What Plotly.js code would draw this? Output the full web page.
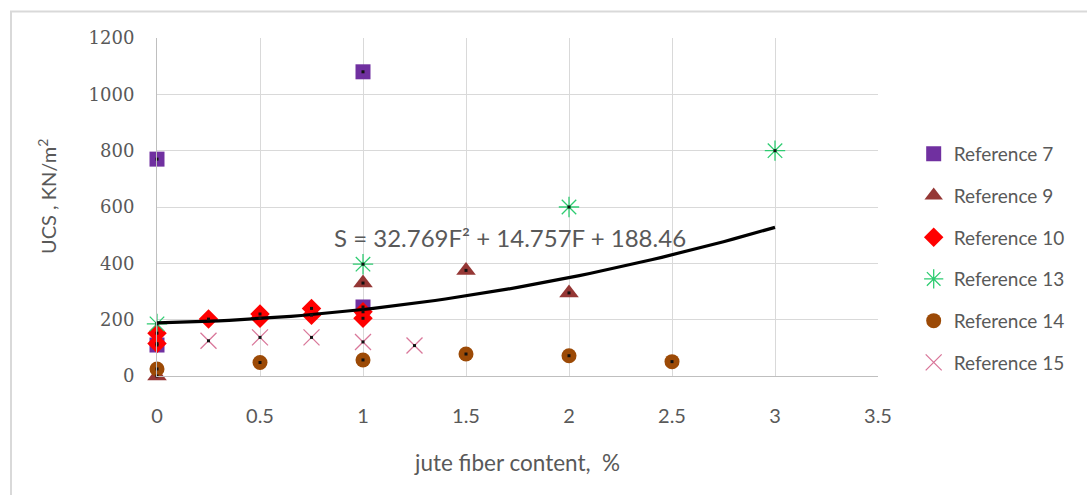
<!DOCTYPE html>
<html>
<head>
<meta charset="utf-8">
<script src="https://cdn.plot.ly/plotly-3.0.1.min.js"></script>
<style>html,body{margin:0;padding:0;background:#fff;}#chart{width:1087px;height:495px;}</style>
</head>
<body>
<div id="chart"></div>
<script>
// Data
const ref7_x = [0, 0, 1, 1];
const ref7_y = [770, 110, 1080, 245];
const ref9_x = [0, 1, 1.5, 2];
const ref9_y = [0, 330, 375, 295];
const ref10_x = [0, 0, 0.25, 0.5, 0.5, 0.75, 0.75, 1, 1];
const ref10_y = [152, 115, 202, 220, 205, 240, 216, 228, 205];
const ref13_x = [0, 1, 2, 3];
const ref13_y = [185, 397, 600, 800];
const ref14_x = [0, 0.5, 1, 1.5, 2, 2.5];
const ref14_y = [25, 48, 57, 78, 72, 51];
const ref15_x = [0.25, 0.5, 0.75, 1, 1.25];
const ref15_y = [125, 137, 137, 121, 108];
// Trendline displayed on the chart: S = 32.769F^2 + 14.757F + 188.46
const trendCoef = [32.769, 14.757, 188.46];
const trendRange = [0, 3];
const xTicks = [0, 0.5, 1, 1.5, 2, 2.5, 3, 3.5];
const yTicks = [0, 200, 400, 600, 800, 1000, 1200];

const trendX = [], trendY = [];
for (let i = 0; i <= 60; i++) {
  const f = trendRange[0] + (trendRange[1] - trendRange[0]) * i / 60;
  trendX.push(f);
  trendY.push(trendCoef[0] * f * f + trendCoef[1] * f + trendCoef[2]);
}

const series = [
  {name: 'Reference 7', x: ref7_x, y: ref7_y, symbol: 'square', color: '#7030a0', size: 15, line: 0},
  {name: 'Reference 9', x: ref9_x, y: ref9_y, symbol: 'triangle-up', color: '#953735', size: 17, line: 0},
  {name: 'Reference 10', x: ref10_x, y: ref10_y, symbol: 'diamond', color: '#ff0000', size: 15, line: 0},
  {name: 'Reference 13', x: ref13_x, y: ref13_y, symbol: 'asterisk-open', color: '#2ecc71', size: 17, line: 1.3},
  {name: 'Reference 14', x: ref14_x, y: ref14_y, symbol: 'circle', color: '#9c4a06', size: 15, line: 0},
  {name: 'Reference 15', x: ref15_x, y: ref15_y, symbol: 'x-thin-open', color: '#d9779a', size: 16, line: 1.3}
];

const traces = [];
series.forEach((s, i) => {
  traces.push({
    type: 'scatter', mode: 'markers', name: s.name, x: s.x, y: s.y,
    legendgroup: 'g' + i, cliponaxis: false,
    marker: {symbol: s.symbol, color: s.color, size: s.size, line: {width: s.line, color: s.color}}
  });
});
traces.push({
  type: 'scatter', mode: 'lines', x: trendX, y: trendY, showlegend: false,
  line: {color: '#000000', width: 3.2}, hoverinfo: 'skip', cliponaxis: false
});
series.forEach((s, i) => {
  traces.push({
    type: 'scatter', mode: 'markers', x: s.x, y: s.y, showlegend: false, cliponaxis: false,
    marker: {symbol: 'square', color: '#111', size: 3, line: {width: 0}}, hoverinfo: 'skip'
  });
});

const layout = {
  width: 1087, height: 495,
  margin: {l: 157, r: 209, t: 38, b: 119},
  paper_bgcolor: '#ffffff', plot_bgcolor: '#ffffff',
  showlegend: true,
  font: {family: 'Lato, "Open Sans", sans-serif', color: '#595959'},
  xaxis: {
    range: [0, 3.5], tickvals: xTicks, ticktext: xTicks.map(String),
    showgrid: true, gridcolor: '#d9d9d9', gridwidth: 1,
    zeroline: false, showline: true, linecolor: '#bfbfbf', linewidth: 1,
    ticks: '', ticklabelstandoff: 22,
    tickfont: {family: 'Lato, sans-serif', size: 20, color: '#595959'},
    automargin: false, fixedrange: true
  },
  yaxis: {
    range: [0, 1200], tickvals: yTicks, ticktext: yTicks.map(String),
    showgrid: true, gridcolor: '#d9d9d9', gridwidth: 1,
    zeroline: false, showline: true, linecolor: '#bfbfbf', linewidth: 1,
    ticks: '', ticklabelstandoff: 18,
    tickfont: {family: '"DejaVu Serif", serif', size: 18, color: '#595959'},
    automargin: false, fixedrange: true
  },
  legend: {
    x: 1.0495, y: 0.713, xanchor: 'left', yanchor: 'top',
    font: {family: 'Lato, sans-serif', size: 19, color: '#595959'},
    tracegroupgap: 14, itemwidth: 30, bgcolor: 'rgba(0,0,0,0)'
  },
  annotations: [
    {
      x: 1.714, y: 493, xref: 'x', yref: 'y', showarrow: false,
      text: 'S = 32.769F² + 14.757F + 188.46',
      font: {family: 'Lato, sans-serif', size: 24, color: '#595959'}
    },
    {
      x: 517, y: 462, xref: 'paper', yref: 'paper', showarrow: false,
      xanchor: 'center', yanchor: 'middle',
      text: 'jute fiber content,&nbsp;&nbsp;%',
      font: {family: 'Lato, sans-serif', size: 22.5, color: '#595959'}
    },
    {
      x: 47, y: 197, xref: 'paper', yref: 'paper', showarrow: false, textangle: -90,
      xanchor: 'center', yanchor: 'middle',
      text: 'UCS , KN/m<sup>2</sup>',
      font: {family: 'Lato, sans-serif', size: 20, color: '#595959'}
    }
  ],
  shapes: [{
    type: 'rect', xref: 'paper', yref: 'paper',
    x0: -0.2025, x1: 1.32, y0: -0.4, y1: 1.0785,
    line: {color: '#d9d9d9', width: 2}, fillcolor: 'rgba(0,0,0,0)', layer: 'below'
  }]
};

// convert pixel placements of axis-title annotations into paper coordinates
const plotL = 157, plotW = 1087 - 157 - 209, plotT = 38, plotH = 495 - 38 - 119;
layout.annotations.forEach((a, i) => {
  if (i > 0) {
    a.x = (a.x - plotL) / plotW;
    a.y = (plotT + plotH - a.y) / plotH;
  }
});

Plotly.newPlot('chart', traces, layout, {displayModeBar: false, staticPlot: true});
</script>
</body>
</html>
